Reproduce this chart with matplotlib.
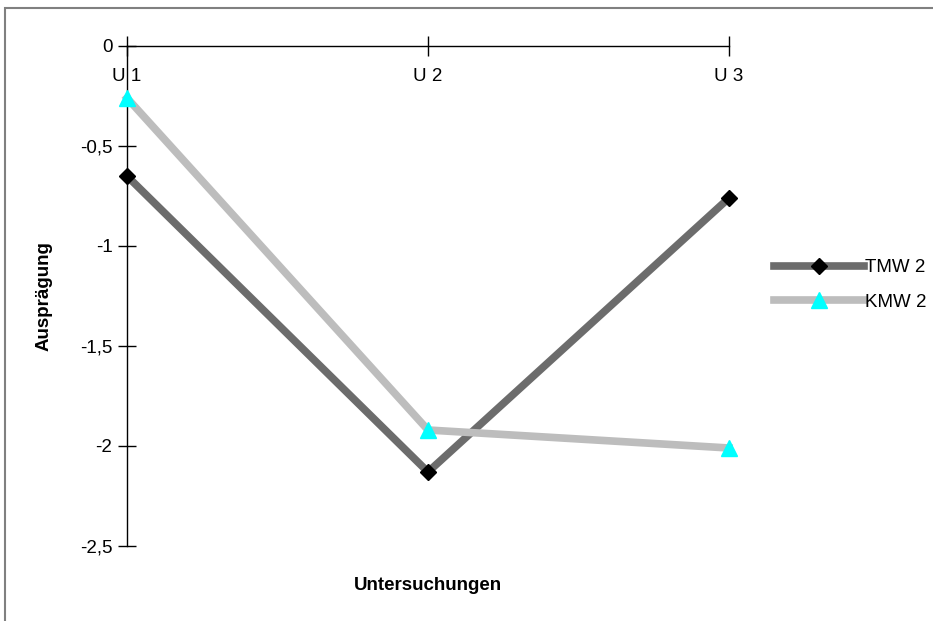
import matplotlib
matplotlib.use('Agg')
import matplotlib.pyplot as plt
from matplotlib.patches import Rectangle

plt.rcParams['font.family'] = ['Liberation Sans', 'DejaVu Sans']

# Data
categories = ['U 1', 'U 2', 'U 3']
tmw2 = [-0.65, -2.13, -0.76]
kmw2 = [-0.26, -1.92, -2.01]
yticks = [0, -0.5, -1, -1.5, -2, -2.5]
ytick_labels = ['0', '-0,5', '-1', '-1,5', '-2', '-2,5']

W, H = 933, 621
FS = 13.5
fig = plt.figure(figsize=(W / 100, H / 100), dpi=100)

# outer chart frame (runs off the right and bottom edge)
fig.patches.append(Rectangle((5 / W, -0.1), 1.2, 1 - 8 / H + 0.1,
                             transform=fig.transFigure, fill=False,
                             edgecolor='#808080', lw=1.5))

ax = fig.add_axes([127 / W, 1 - 546 / H, 602 / W, 500 / H])
x = list(range(len(categories)))

ax.plot(x, tmw2, color='#6c6c6c', lw=5.5, marker='D', ms=8,
        mfc='black', mec='black', label='TMW 2', zorder=3, clip_on=False)
ax.plot(x, kmw2, color='#bdbdbd', lw=5.5, marker='^', ms=11,
        mfc='#00ffff', mec='#00ffff', label='KMW 2', zorder=3, clip_on=False)

ax.set_xlim(0, 2)
ax.set_ylim(-2.5, 0)

for s in ['right', 'bottom']:
    ax.spines[s].set_visible(False)
ax.spines['top'].set_linewidth(1)
ax.spines['left'].set_linewidth(1)

ax.set_yticks(yticks)
ax.set_yticklabels(ytick_labels, fontsize=FS)
ax.tick_params(axis='y', direction='inout', length=13, width=1, pad=4)

ax.set_xticks(x)
ax.set_xticklabels(categories, fontsize=FS)
ax.tick_params(axis='x', bottom=False, labelbottom=False, top=True,
               labeltop=True, direction='inout', length=14, width=1,
               pad=-35)

ax.set_ylabel('Ausprägung', fontsize=FS, fontweight='bold', labelpad=20)
fig.text(428 / W, 1 - 585 / H, 'Untersuchungen', fontsize=FS,
         fontweight='bold', ha='center', va='center')

leg = ax.legend(loc='center left', bbox_to_anchor=(774 / W, 1 - 285 / H),
                bbox_transform=fig.transFigure, frameon=False, fontsize=FS,
                handlelength=4.8, handletextpad=0.05, labelspacing=0.95,
                borderaxespad=0, borderpad=0)

fig.savefig('out.png', dpi=100)
